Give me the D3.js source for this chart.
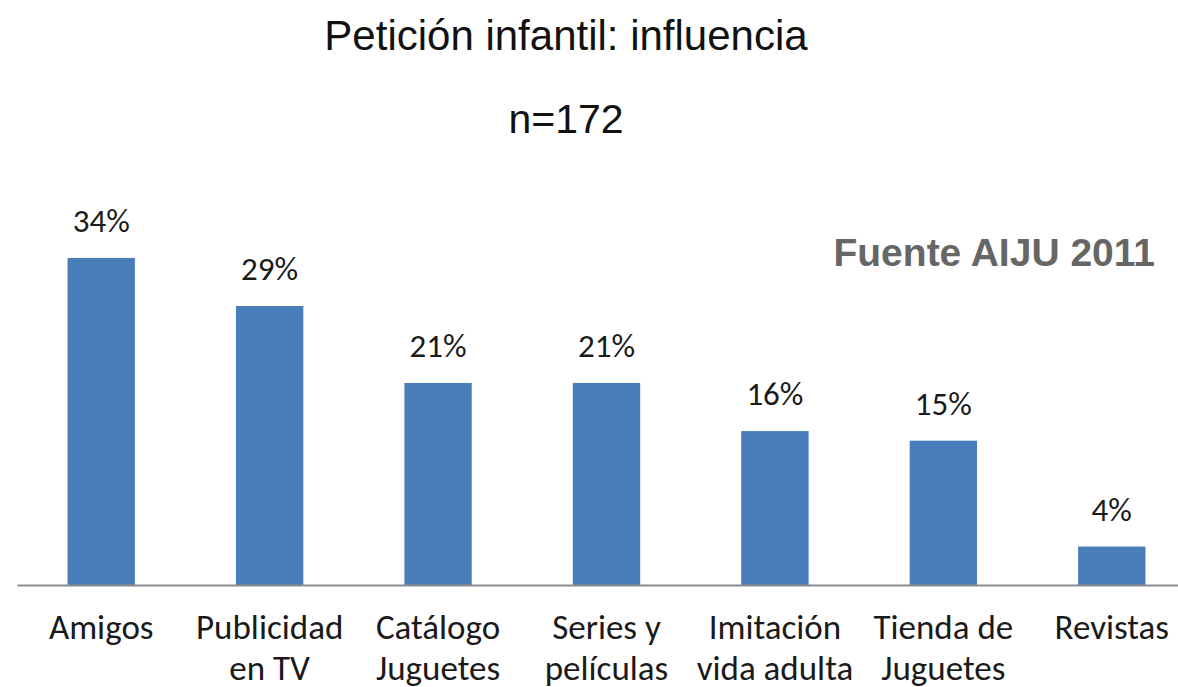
<!DOCTYPE html>
<html>
<head>
<meta charset="utf-8">
<script src="https://cdn.jsdelivr.net/npm/d3@7"></script>
<style>
  body { margin: 0; background: #fff; }
  #chart svg { display: block; }
</style>
</head>
<body>
<div id="chart"></div>
<script>
// data
var categories = ["Amigos", "Publicidad\nen TV", "Catálogo\nJuguetes", "Series y\npelículas", "Imitación\nvida adulta", "Tienda de\nJuguetes", "Revistas"];
var values = [34, 29, 21, 21, 16, 15, 4];
var titleLines = ["Petición infantil: influencia", "n=172"];
var sourceNote = "Fuente AIJU 2011";

var svgWidth = 1178, svgHeight = 687;
var baseY = 585;
var labelFont = "Carlito, Lato, 'DejaVu Sans Condensed', sans-serif";

var svg = d3.select("#chart").append("svg").attr("width", svgWidth).attr("height", svgHeight);

var x = d3.scaleBand().domain(categories).range([17, 1196]).paddingInner(0.6).paddingOuter(0.3);
var y = d3.scaleLinear().domain([0, 35]).range([baseY, 248.3]);

// titles
svg.selectAll("text.title").data(titleLines).enter().append("text")
    .attr("class", "title")
    .attr("x", 566)
    .attr("y", function (d, i) { return i === 0 ? 50 : 133; })
    .attr("text-anchor", "middle")
    .style("font-family", "'Liberation Sans', Arial, sans-serif")
    .style("font-size", function (d, i) { return i === 0 ? "42px" : "41px"; })
    .style("fill", "#111")
    .text(function (d) { return d; });

svg.append("text")
    .attr("x", 1155).attr("y", 266)
    .attr("text-anchor", "end")
    .style("font-family", "'Liberation Sans', Arial, sans-serif")
    .style("font-weight", "bold")
    .style("font-size", "39px")
    .style("fill", "#666")
    .text(sourceNote);

// bars
var bars = svg.selectAll("g.bar").data(values).enter().append("g").attr("class", "bar");

bars.append("rect")
    .attr("x", function (d, i) { return x(categories[i]); })
    .attr("y", function (d) { return y(d); })
    .attr("width", x.bandwidth())
    .attr("height", function (d) { return baseY - y(d); })
    .attr("fill", "#4a7ebb");

bars.append("text")
    .attr("x", function (d, i) { return x(categories[i]) + x.bandwidth() / 2; })
    .attr("y", function (d) { return y(d) - 26; })
    .attr("text-anchor", "middle")
    .style("font-family", labelFont)
    .style("font-size", "33px")
    .style("fill", "#1a1a1a")
    .text(function (d) { return d + "%"; });

// axis
var axis = svg.append("g")
    .attr("transform", "translate(0," + baseY + ")")
    .call(d3.axisBottom(x).tickSize(0).tickFormat(""));
axis.select(".domain").attr("stroke", "#8c8c8c").attr("stroke-width", 2);

var tickText = axis.selectAll(".tick text")
    .attr("y", 0)
    .attr("dy", null)
    .style("font-family", labelFont)
    .style("font-size", "35px")
    .style("fill", "#1a1a1a");

tickText.each(function (d) {
    var t = d3.select(this);
    d.split("\n").forEach(function (line, i) {
        t.append("tspan")
            .attr("x", 0)
            .attr("y", i === 0 ? 54 : 95)
            .text(line);
    });
});
</script>
</body>
</html>
